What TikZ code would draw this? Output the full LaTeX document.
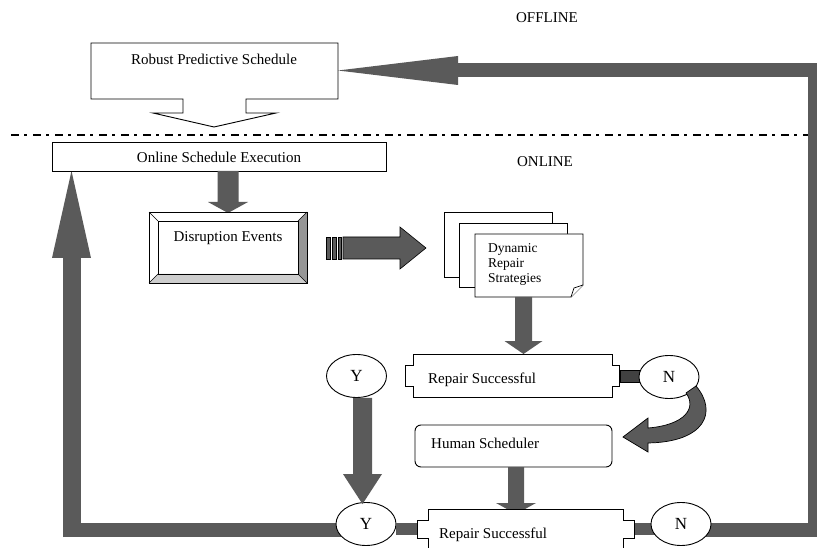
\documentclass[tikz,border=0pt]{standalone}
\usepackage{fontspec}
\setmainfont{Liberation Serif}
\usetikzlibrary{calc,shapes.geometric}
\definecolor{fatgray}{RGB}{90,90,90}
\definecolor{darkconn}{RGB}{65,65,65}
\definecolor{bevelR}{RGB}{150,150,150}
\definecolor{bevelB}{RGB}{205,205,205}
\newcommand\fatdown[5]{%
  \fill[fatgray] let \p1=#1, \p2=#2 in
   (\x2-#3pt,\y1) -- (\x2-#3pt,\y2+#5pt) -- (\x2-#4pt,\y2+#5pt) -- (\x2,\y2)
   -- (\x2+#4pt,\y2+#5pt) -- (\x2+#3pt,\y2+#5pt) -- (\x2+#3pt,\y1) -- cycle;}
\newcommand\notchbox[3]{%
  \draw[box] (#1.north west) -- (#1.north east) -- ([yshift=-#3pt]#1.north east)
   -- ([xshift=#2pt,yshift=-#3pt]#1.north east) -- ([xshift=#2pt,yshift=#3pt]#1.south east)
   -- ([yshift=#3pt]#1.south east) -- (#1.south east) -- (#1.south west)
   -- ([yshift=#3pt]#1.south west) -- ([xshift=-#2pt,yshift=#3pt]#1.south west)
   -- ([xshift=-#2pt,yshift=-#3pt]#1.north west) -- ([yshift=-#3pt]#1.north west) -- cycle;}
\begin{document}
\begin{tikzpicture}[x=1pt,y=-1pt,
  box/.style={draw=black, line width=0.9pt, fill=white},
  txt/.style={font=\fontsize{15}{17}\selectfont, inner sep=0pt},
  oval/.style={ellipse, draw=black, line width=0.9pt, fill=white, minimum width=60pt,
     minimum height=43pt, inner sep=0pt, font=\fontsize{17}{19}\selectfont},
  bar/.style={draw=fatgray, line cap=butt, line join=miter},
  blank/.style={inner sep=0pt, outer sep=0pt}
]
\clip (0,0) rectangle (817,548);
\fill[white] (0,0) rectangle (817,548);

% labels
\node[txt, anchor=base] (offl) at (547,23) {OFFLINE};
\node[txt, anchor=base] (onl) at (545,167) {ONLINE};

% dash-dot separator
\coordinate (sepL) at (11,135);
\coordinate (sepR) at (817,135);
\draw[line width=1.4pt, dash pattern=on 8pt off 5pt on 3pt off 6pt] (sepL) -- (sepR);

% node frames (invisible, for anchors)
\node[blank, minimum width=334pt, minimum height=29pt] (ose) at (219,156.5) {};
\node[blank, minimum width=158pt, minimum height=71pt] (dis) at (228,247.5) {};
\node[blank, minimum width=199pt, minimum height=43pt] (rs1) at (512.5,375.5) {};
\node[blank, minimum width=195pt, minimum height=40pt] (rs2) at (525.5,529) {};
\node[blank, minimum width=197pt, minimum height=42pt] (hs) at (513.5,446) {};

% big return bars (drawn first)
\coordinate (lcorner) at (62.5,530);
\coordinate (lbar) at (71.5,537);
\coordinate (rcornerB) at (815,530);
\coordinate (rcornerT) at (815,70);
\coordinate (rpsE) at (338,70.5);
\draw[bar, line width=14pt] (366,530) -- (lcorner);
\draw[bar, line width=18pt] (lbar) -- (71.5,258);
\fill[fatgray] (52,258) -- (lbar |- ose.south) -- (91,258) -- cycle;
\draw[bar, line width=14pt] (681,530) -- (rcornerB) -- (rcornerT) -- (458,70);
\fill[fatgray] (458,56) -- (rpsE) -- (458,85) -- cycle;

% Robust Predictive Schedule (callout box)
\draw[box] (91,43) -- (338,43) -- (338,99) -- (246,99) -- (246,113) -- (276,113)
  -- (214,127) -- (153,113) -- (183,113) -- (183,99) -- (91,99) -- cycle;
\node[txt, anchor=base] (rps) at (214,65) {Robust Predictive Schedule};

% Online Schedule Execution
\draw[box] (ose.north west) rectangle (ose.south east);
\node[txt, anchor=base] (oset) at (219,163) {Online Schedule Execution};

% arrow online -> disruption
\fatdown{(dis.north |- ose.south)}{([yshift=-1pt]dis.north)}{10.5}{20}{11}

% Disruption Events bevel box
\fill[white] (dis.north west) rectangle (dis.south east);
\fill[bevelR] (dis.north east) -- (dis.south east) -- ([xshift=-9pt,yshift=9pt]dis.south east)
  -- ([xshift=-9pt,yshift=-9pt]dis.north east) -- cycle;
\fill[bevelB] (dis.south west) -- (dis.south east) -- ([xshift=-9pt,yshift=9pt]dis.south east)
  -- ([xshift=9pt,yshift=9pt]dis.south west) -- cycle;
\draw[line width=0.9pt] (dis.north west) rectangle (dis.south east);
\draw[line width=0.7pt] ([xshift=9pt,yshift=-9pt]dis.north west) rectangle ([xshift=-9pt,yshift=9pt]dis.south east);
\draw[line width=0.7pt] (dis.north west) -- ++(9pt,-9pt);
\draw[line width=0.7pt] (dis.north east) -- ++(-9pt,-9pt);
\draw[line width=0.7pt] (dis.south west) -- ++(9pt,9pt);
\draw[line width=0.7pt] (dis.south east) -- ++(-9pt,9pt);
\node[txt, anchor=base] (dist) at (228,242) {Disruption Events};

% striped block arrow
\draw[line width=0.6pt, fill=fatgray] (326,237) rectangle (330.5,259);
\draw[line width=0.6pt, fill=fatgray] (332,237) rectangle (336.5,259);
\draw[line width=0.6pt, fill=fatgray] (338,237) rectangle (341.5,259);
\draw[line width=0.6pt, fill=fatgray] (343,237) -- (400,237) -- (400,227) -- (426,248)
  -- (400,269) -- (400,259) -- (343,259) -- cycle;

% Dynamic Repair Strategies (stacked sheets)
\draw[box] (444,212) rectangle (552,277);
\draw[box] (459,223) rectangle (567,287);
\draw[box] (475,234) -- (583,234) -- (583,285) -- (571,297) -- (475,297) -- cycle;
\draw[line width=0.7pt, fill=white] (583,285) -- (574,288) -- (571,297);
\node[anchor=base west, inner sep=0pt, font=\fontsize{13.5}{15}\selectfont] (drs1) at (488,253) {Dynamic};
\node[anchor=base west, inner sep=0pt, font=\fontsize{13.5}{15}\selectfont] (drs2) at (488,268) {Repair};
\node[anchor=base west, inner sep=0pt, font=\fontsize{13.5}{15}\selectfont] (drs3) at (488,283) {Strategies};

% arrow sheets -> repair successful
\coordinate (s3b) at (523.5,297);
\fatdown{(s3b)}{(s3b |- rs1.north)}{8.5}{19}{13}

% Repair Successful 1
\notchbox{rs1}{7.5}{11}
\node[txt, anchor=base west] (rs1t) at (428,383) {Repair Successful};

% connector rs1 -> N
\draw[line width=0.6pt, fill=darkconn] (620,370) rectangle (642,382);

% Y / N ovals
\node[oval] (y1) at (356.5,376) {Y};
\node[oval] (n1) at (669,377) {N};

% curved arrow N -> Human Scheduler
\draw[line width=0.7pt, fill=fatgray] (686,393) .. controls (697,408) and (685,425) .. (648,428)
  -- (648,418) -- (623,437) -- (648,452) -- (648,443)
  .. controls (705,442) and (718,412) .. (696,386) -- cycle;

% Human Scheduler
\draw[box, rounded corners=6pt] (hs.north west) rectangle (hs.south east);
\node[txt, anchor=base west] (hst) at (431,448) {Human Scheduler};

% arrow human scheduler -> repair successful 2
\fatdown{([xshift=2.5pt]hs.south)}{([xshift=2.5pt,yshift=-5pt]hs.south |- rs2.north)}{8}{20}{11}

% lower Y oval and arrow Y -> Y
\node[oval] (y2) at (366,524) {Y};
\fatdown{([xshift=6pt]y1.south)}{([xshift=6pt,yshift=-2pt]y1.south |- y2.north)}{9.5}{19.5}{30}

% connectors around repair successful 2
\fill[fatgray] (396,523) rectangle (418,535);
\fill[fatgray] (632,523) rectangle (656,535);

% Repair Successful 2
\notchbox{rs2}{11}{11}
\node[txt, anchor=base west] (rs2t) at (439,538) {Repair Successful};

\node[oval] (n2) at (681,524) {N};
\end{tikzpicture}
\end{document}
